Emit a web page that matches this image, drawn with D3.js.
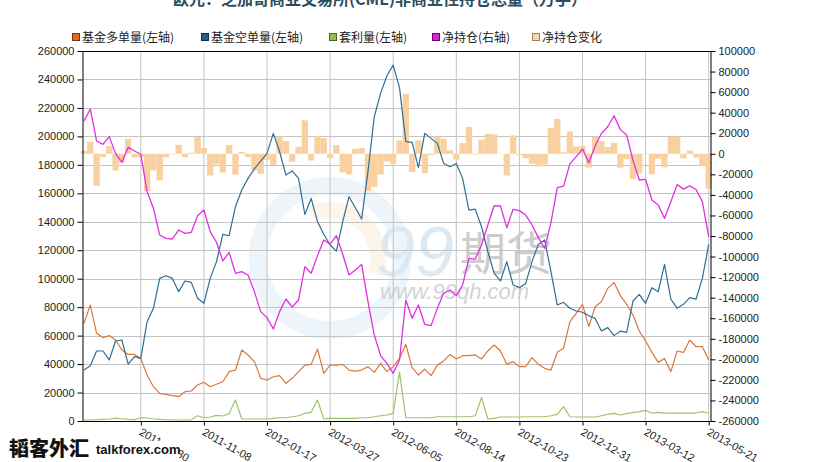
<!DOCTYPE html>
<html>
<head>
<meta charset="utf-8">
<script src="https://cdn.jsdelivr.net/npm/d3@7"></script>
<style>
body{margin:0;background:#fff;}
svg{display:block;font-family:Arial,"Liberation Sans",sans-serif;}
</style>
</head>
<body>
<svg id="chart" width="830" height="462"></svg>
<script>
const dates = [
"2011-06-28","2011-07-05","2011-07-12","2011-07-19","2011-07-26","2011-08-02","2011-08-09","2011-08-16","2011-08-23","2011-08-30",
"2011-09-06","2011-09-13","2011-09-20","2011-09-27","2011-10-04","2011-10-11","2011-10-18","2011-10-25","2011-11-01","2011-11-08",
"2011-11-15","2011-11-22","2011-11-29","2011-12-06","2011-12-13","2011-12-20","2011-12-27","2012-01-03","2012-01-10","2012-01-17",
"2012-01-24","2012-01-31","2012-02-07","2012-02-14","2012-02-21","2012-02-28","2012-03-06","2012-03-13","2012-03-20","2012-03-27",
"2012-04-03","2012-04-10","2012-04-17","2012-04-24","2012-05-01","2012-05-08","2012-05-15","2012-05-22","2012-05-29","2012-06-05",
"2012-06-12","2012-06-19","2012-06-26","2012-07-03","2012-07-10","2012-07-17","2012-07-24","2012-07-31","2012-08-07","2012-08-14",
"2012-08-21","2012-08-28","2012-09-04","2012-09-11","2012-09-18","2012-09-25","2012-10-02","2012-10-09","2012-10-16","2012-10-23",
"2012-10-30","2012-11-06","2012-11-13","2012-11-20","2012-11-27","2012-12-04","2012-12-11","2012-12-18","2012-12-24","2012-12-31",
"2013-01-08","2013-01-15","2013-01-22","2013-01-29","2013-02-05","2013-02-12","2013-02-19","2013-02-26","2013-03-05","2013-03-12",
"2013-03-19","2013-03-26","2013-04-02","2013-04-09","2013-04-16","2013-04-23","2013-04-30","2013-05-07","2013-05-14","2013-05-21"
];

// 基金多单量(左轴)
const fundLong = [
68600,81500,61600,58600,60000,56900,49900,46800,46800,44000,
32300,24100,19400,18700,17800,17100,20600,21100,25300,27200,
24100,25800,27600,34700,35800,49900,46400,41700,30000,28800,
31100,31900,26500,30000,34700,39300,39800,50600,33500,39300,
39300,39800,35800,35100,35800,38200,34200,40500,34700,38200,
44000,53900,37500,32300,36500,31900,39300,42200,46800,43600,
45900,45900,46400,43600,49200,53400,49200,39800,41700,38200,
38200,44500,39800,37000,35800,48300,51100,69800,75600,82000,
66300,80300,83800,93200,97400,88100,82000,74500,63200,56200,
48200,41200,44000,34700,49200,48200,56900,52200,52200,42900
];

// 基金空单量(左轴)
const fundShort = [
35800,38900,49200,49200,42900,56200,56900,40000,45200,44000,
69800,79200,100200,102100,100200,90900,98400,97400,86200,82700,
100200,112000,131200,130200,150600,162300,170500,177100,182700,188100,
202100,189200,172800,175700,170500,145200,156400,140100,131200,123700,
119400,140100,157600,149900,141900,175200,213800,230200,242600,250100,
234300,196300,195800,178000,202100,198600,195100,181000,178700,181000,
170500,148200,148900,136500,119000,103800,98400,112000,95600,93700,
96700,112000,124100,127200,104900,81500,83400,79200,77300,76400,
74000,72100,63200,65600,60000,63200,62300,84300,89000,82700,
93700,90900,110100,85700,79200,82000,86700,85700,100200,124100
];

// 套利量(左轴)
const spreading = [
700,700,900,1200,1400,2000,1600,1200,1000,2300,
2100,1600,1200,900,700,700,700,800,3700,2300,
2800,3900,3500,5200,14800,1400,1400,1400,1400,1400,
1900,2300,2300,3000,3700,5400,6100,14800,1400,1900,
1900,1900,1900,1900,2300,2300,3000,3700,4200,5400,
34400,2300,2300,2300,2300,2300,3000,3000,3000,3000,
3000,3000,3700,16400,1400,1900,2800,2800,2800,2800,
3000,3000,3000,3000,3700,4700,10100,3000,2800,2800,
2800,2800,3700,4700,5400,4200,5200,5900,6600,7500,
5600,6100,5600,5600,5600,5600,5600,5600,6600,5600
];

// 净持仓(右轴)
const netPosition = [
31900,43600,12400,9200,16700,400,-8300,6300,2700,-500,
-36900,-53100,-79000,-82300,-82900,-74200,-77400,-76400,-60200,-54700,
-75800,-86100,-104300,-95900,-116300,-114700,-117900,-134100,-153600,-159400,
-170500,-153600,-141300,-149100,-142300,-109800,-116300,-99100,-83900,-88100,
-79700,-97800,-117900,-113100,-107600,-143900,-176300,-196400,-203900,-213600,
-200600,-142300,-160100,-147100,-165900,-167200,-150400,-135800,-132500,-138000,
-127700,-101700,-102400,-88700,-69300,-50500,-50800,-71900,-54000,-55300,
-59600,-69300,-81600,-92000,-67000,-33000,-31500,-9800,-2800,4600,
-8800,7600,19800,26300,37000,23500,18200,-6400,-25500,-25000,
-45000,-49800,-63000,-46600,-29800,-34400,-31200,-34800,-46600,-80600
];

// 净持仓变化 (右轴)
const netChange = [
3000,11700,-31200,-3200,7500,-16300,-8700,14600,-3600,-3200,
-36400,-16200,-25900,-3300,-600,8700,-3200,1000,16200,5500,
-21100,-10300,-18200,8400,-20400,1600,-3200,-16200,-19500,-5800,
-11100,16900,12300,-7800,6800,32500,-6500,17200,15200,-4200,
8400,-18100,-20100,4800,5500,-36300,-32400,-20100,-7500,-9700,
13000,58300,-17800,13000,-18800,-1300,16800,14600,3300,-5500,
10300,26000,-700,13700,19400,18800,-300,-21100,17900,-1300,
-4300,-9700,-12300,-10400,25000,34000,1500,21700,7000,7400,
-13400,16400,12200,6500,10700,-13500,-5300,-24600,-19100,500,
-20000,-4800,-13200,16400,16800,-4600,3200,-3600,-11800,-34000
];

const xTickLabels = ["2011-08-30","2011-11-08","2012-01-17","2012-03-27","2012-06-05","2012-08-14","2012-10-23","2012-12-31","2013-03-12","2013-05-21"];
const leftTicks = [0,20000,40000,60000,80000,100000,120000,140000,160000,180000,200000,220000,240000,260000];
const rightTicks = [100000,80000,60000,40000,20000,0,-20000,-40000,-60000,-80000,-100000,-120000,-140000,-160000,-180000,-200000,-220000,-240000,-260000];
const legendNames = ["基金多单量(左轴)","基金空单量(左轴)","套利量(左轴)","净持仓(右轴)","净持仓变化"];
const legendColors = ["#e06a2a","#1f5f96","#92c050","#e020e0","#fbd5b0"];
const legendBorders = ["#7a3510","#0d2f50","#4a6a20","#700070","#a08060"];
const titleText = "欧元：芝加哥商业交易所(CME)非商业性持仓总量（万手）";

const svg = d3.select("#chart");
const L = 82, R = 710.5, T = 51, B = 421;

const x = d3.scalePoint().domain(dates).range([84, 708.7]);
const step = x.step();
const yL = d3.scaleLinear().domain([0, 260000]).range([B, T]);
const yR = d3.scaleLinear().domain([-260000, 100000]).range([B, T]);

// title (cut at top)
svg.append("text").attr("x", 173).attr("y", 4.5)
  .attr("font-family", "'Noto Sans CJK SC', sans-serif").attr("font-weight", "bold")
  .attr("font-size", 16).attr("fill", "#2e4d5e").text(titleText);

// watermark
const wm = svg.append("g");
wm.append("circle").attr("cx", 330).attr("cy", 258).attr("r", 72)
  .attr("fill", "none").attr("stroke", "#eef5fa").attr("stroke-width", 18);
wm.append("path").attr("d", d3.arc()({innerRadius: 40, outerRadius: 56, startAngle: -0.4, endAngle: 1.9}))
  .attr("transform", "translate(330,258)").attr("fill", "#fdf4ea");
wm.append("text").attr("x", 376).attr("y", 276).attr("font-size", 70).attr("font-style", "italic")
  .attr("fill", "#dde9f2").text("99");
wm.append("text").attr("x", 460).attr("y", 270).attr("font-size", 46)
  .attr("font-family", "'Noto Sans CJK SC', sans-serif").attr("fill", "#cdcdcd").text("期货");
wm.append("text").attr("x", 380).attr("y", 299).attr("font-size", 22).attr("font-style", "italic")
  .attr("fill", "#d3d3d3").text("www.99qh.com");

// grid
const grid = svg.append("g").attr("stroke", "#c4c4c4").attr("stroke-width", 1);
grid.selectAll("line.h").data(leftTicks.filter(d => d > 0 && d < 260000)).join("line")
  .attr("x1", L).attr("x2", R).attr("y1", d => Math.round(yL(d)) + 0.5).attr("y2", d => Math.round(yL(d)) + 0.5);
grid.selectAll("line.v").data(xTickLabels).join("line")
  .attr("x1", d => x(d)).attr("x2", d => x(d)).attr("y1", T).attr("y2", B);

// bars
svg.append("g").selectAll("rect").data(netChange).join("rect")
  .attr("x", (d, i) => x(dates[i]) - step / 2)
  .attr("width", step)
  .attr("y", d => yR(Math.max(0, d)))
  .attr("height", d => Math.abs(yR(d) - yR(0)))
  .attr("fill", "#f9d0a0");

// lines
function drawLine(vals, scale, color, w) {
  svg.append("path").datum(vals)
    .attr("fill", "none").attr("stroke", color).attr("stroke-width", w).attr("stroke-linejoin", "round")
    .attr("d", d3.line().x((d, i) => x(dates[i])).y(d => scale(d)));
}
drawLine(spreading, yL, "#9fc36a", 1.2);
drawLine(fundLong, yL, "#d9773f", 1.2);
drawLine(fundShort, yL, "#2f6f93", 1.2);
drawLine(netPosition, yR, "#e030e0", 1.3);

// frame
svg.append("line").attr("x1", L).attr("x2", R).attr("y1", T + 0.5).attr("y2", T + 0.5).attr("stroke", "#000");
svg.append("line").attr("x1", L).attr("x2", R).attr("y1", B + 0.5).attr("y2", B + 0.5).attr("stroke", "#000");

// axes
function styleAxis(g) {
  g.selectAll("path.domain").attr("stroke", "#000");
  g.selectAll(".tick line").attr("stroke", "#000");
  g.selectAll("text").attr("fill", "#222").attr("font-size", 11).attr("font-family", "Arial,'Liberation Sans',sans-serif");
}
const gl = svg.append("g").attr("transform", `translate(${L + 0.5},0)`)
  .call(d3.axisLeft(yL).tickValues(leftTicks).tickSize(5).tickSizeOuter(0).tickPadding(3).tickFormat(d => String(d)));
styleAxis(gl);
const gr = svg.append("g").attr("transform", `translate(${R},0)`)
  .call(d3.axisRight(yR).tickValues(rightTicks).tickSize(5).tickSizeOuter(0).tickPadding(3).tickFormat(d => String(d)));
styleAxis(gr);
const gb = svg.append("g").attr("transform", `translate(0,${B + 0.5})`)
  .call(d3.axisBottom(x).tickValues(xTickLabels).tickSize(4).tickSizeOuter(0));
gb.select("path.domain").remove();
styleAxis(gb);
gb.selectAll("text").attr("x", 0).attr("y", 0).attr("dy", "0.71em")
  .attr("transform", "translate(1,6) rotate(30)").style("text-anchor", "start");

// legend
const lx = [72, 201, 329, 432, 532];
const lg = svg.append("g");
legendNames.forEach((n, i) => {
  lg.append("rect").attr("x", lx[i] + 0.5).attr("y", 33.5).attr("width", 7).attr("height", 7)
    .attr("fill", legendColors[i]).attr("stroke", legendBorders[i]).attr("stroke-width", 1);
  lg.append("text").attr("x", lx[i] + 10).attr("y", 42).attr("font-size", 12)
    .attr("font-family", "'Noto Sans CJK SC', sans-serif").attr("fill", "#222").text(n);
});

// bottom-left logo
svg.append("rect").attr("x", 93).attr("y", 441).attr("width", 86).attr("height", 21).attr("fill", "#fff");
svg.append("text").attr("x", 9).attr("y", 456).attr("font-size", 20).attr("font-weight", 900)
  .attr("font-family", "'Noto Sans CJK SC', serif").attr("fill", "#111").text("韬客外汇");
svg.append("text").attr("x", 96).attr("y", 454).attr("font-size", 13).attr("font-weight", "bold")
  .attr("font-family", "Arial,'Liberation Sans',sans-serif").attr("fill", "#111").text("talkforex.com");
</script>
</body>
</html>
